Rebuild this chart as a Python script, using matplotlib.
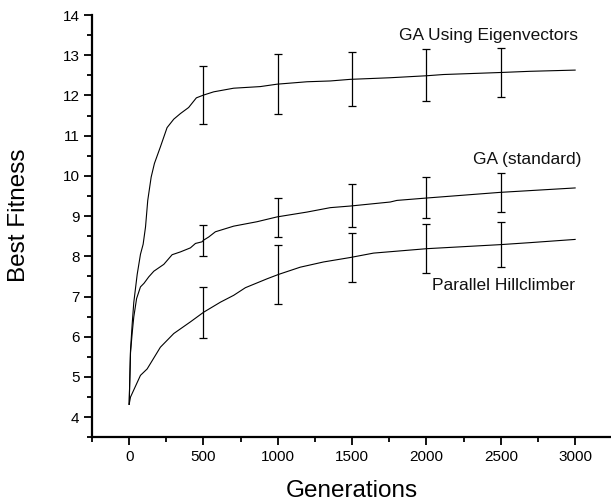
import matplotlib
matplotlib.use("Agg")
import matplotlib.pyplot as plt
from matplotlib.ticker import MultipleLocator
import numpy as np

plt.rcParams['font.family'] = ['Liberation Sans', 'DejaVu Sans']

# --- data ---
eigen_x = [0, 9, 20, 31, 54, 76, 94, 110, 125, 148, 170, 210, 255, 300, 345, 400, 452, 501,
           569, 703, 882, 995, 1196, 1353, 1487, 1756, 2003, 2114, 2495, 2697, 3000]
eigen_y = [4.32, 5.66, 6.30, 6.85, 7.55, 8.05, 8.30, 8.73, 9.39, 9.97, 10.31, 10.72, 11.20,
           11.41, 11.55, 11.70, 11.94, 12.01, 12.09, 12.18, 12.22, 12.28, 12.34, 12.36, 12.40,
           12.44, 12.49, 12.52, 12.57, 12.60, 12.63]

std_x = [0, 9, 20, 31, 50, 76, 100, 132, 166, 233, 289, 345, 412, 446, 490, 500, 535, 580,
         703, 860, 995, 1196, 1353, 1487, 1756, 1801, 2003, 2495, 3000]
std_y = [4.32, 5.60, 6.08, 6.49, 6.95, 7.24, 7.33, 7.49, 7.63, 7.80, 8.04, 8.11, 8.21, 8.32,
         8.36, 8.40, 8.48, 8.61, 8.75, 8.86, 8.98, 9.10, 9.21, 9.25, 9.35, 9.39, 9.45, 9.59, 9.70]

hill_x = [0, 9, 76, 121, 210, 300, 412, 501, 614, 703, 782, 927, 1005, 1151, 1308, 1487,
          1644, 2003, 2495, 2697, 3000]
hill_y = [4.32, 4.50, 5.04, 5.20, 5.74, 6.08, 6.37, 6.61, 6.86, 7.03, 7.22, 7.44, 7.55, 7.73,
          7.86, 7.97, 8.08, 8.19, 8.29, 8.34, 8.42]

err_gen = [500, 1000, 1500, 2000, 2500]
eigen_mean = [12.01, 12.27, 12.40, 12.49, 12.57]
eigen_hi = [12.74, 13.02, 13.09, 13.15, 13.18]
eigen_lo = [11.28, 11.53, 11.73, 11.85, 11.96]
std_mean = [8.40, 8.98, 9.25, 9.45, 9.59]
std_hi = [8.78, 9.46, 9.79, 9.96, 10.07]
std_lo = [8.00, 8.48, 8.73, 8.95, 9.11]
hill_mean = [6.61, 7.55, 7.97, 8.18, 8.29]
hill_hi = [7.24, 8.27, 8.59, 8.80, 8.85]
hill_lo = [5.98, 6.82, 7.35, 7.58, 7.73]

labels = ["GA Using Eigenvectors", "GA (standard)", "Parallel Hillclimber"]
label_x = [3017, 3044, 2999]
label_y = [13.38, 10.30, 7.16]

# --- figure ---
fig = plt.figure(figsize=(6.11, 5.03), dpi=100)
ax = fig.add_axes([92 / 611, 1 - 437.3 / 503, (612.3 - 92) / 611, (437.3 - 15) / 503])

for xs, ys in [(eigen_x, eigen_y), (std_x, std_y), (hill_x, hill_y)]:
    ax.plot(xs, ys, color='black', lw=0.8)

for m, hi, lo in [(eigen_mean, eigen_hi, eigen_lo), (std_mean, std_hi, std_lo),
                  (hill_mean, hill_hi, hill_lo)]:
    m = np.array(m); hi = np.array(hi); lo = np.array(lo)
    ax.errorbar(err_gen, m, yerr=[m - lo, hi - m], fmt='none', ecolor='black',
                elinewidth=0.9, capsize=2.6, capthick=0.9)

for t, lx, ly in zip(labels, label_x, label_y):
    ax.text(lx, ly, t, ha='right', va='baseline', fontsize=12.5, color='#111111')

ax.set_xlim(-250, 3250)
ax.set_ylim(3.5, 14)
ax.xaxis.set_major_locator(MultipleLocator(500))
ax.xaxis.set_minor_locator(MultipleLocator(250))
ax.yaxis.set_major_locator(MultipleLocator(1))
ax.yaxis.set_minor_locator(MultipleLocator(0.5))
ax.set_xticks([0, 500, 1000, 1500, 2000, 2500, 3000])
ax.set_yticks([4, 5, 6, 7, 8, 9, 10, 11, 12, 13, 14])

for s in ['top', 'right']:
    ax.spines[s].set_visible(False)
for s in ['left', 'bottom']:
    ax.spines[s].set_linewidth(1.6)

ax.tick_params(which='major', direction='out', length=6, width=1.3, labelsize=11, pad=3)
ax.tick_params(which='minor', direction='out', length=3.5, width=1.3)

fig.text(19.5 / 611, 1 - 215 / 503, "Best Fitness", rotation=90, ha='center', va='center',
         fontsize=17.5)
fig.text(352 / 611, 1 - 497.3 / 503, "Generations", ha='center', va='baseline',
         fontsize=17.5)

fig.savefig("out.png", dpi=100)
